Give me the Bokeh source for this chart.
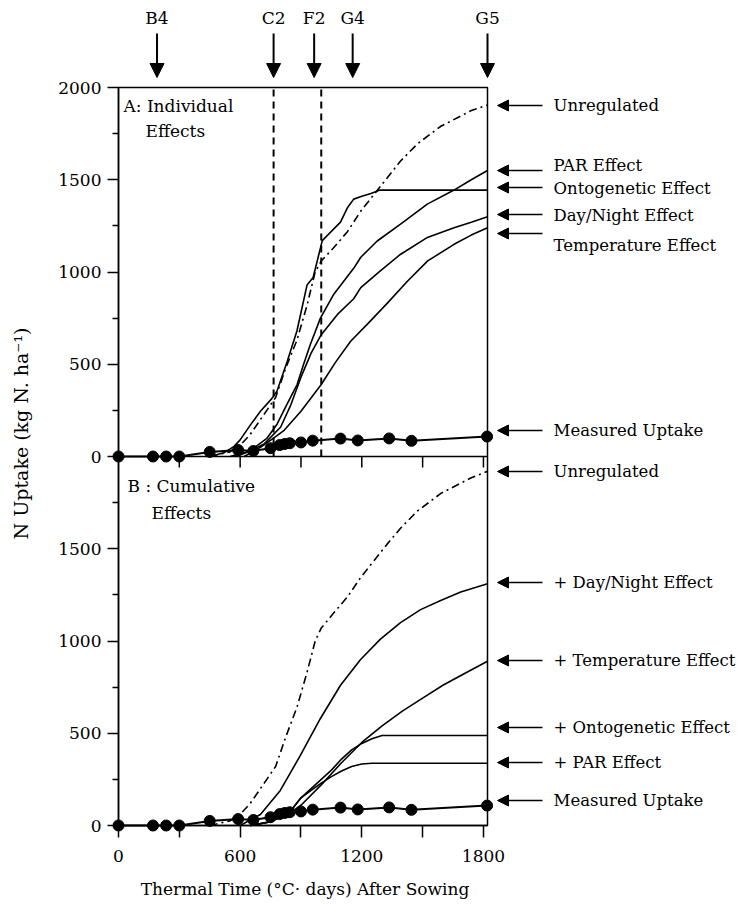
import math
from bokeh.plotting import figure
from bokeh.models import Range1d, FixedTicker, Label, Arrow, NormalHead
from bokeh.embed import file_html
from bokeh.resources import INLINE

FONT = "DejaVu Serif"
FS = "17px"

# ---------------- data ----------------
# measured N uptake (same observations in both panels)
meas_x = [0, 170, 235, 300, 450, 590, 665, 750, 795, 820, 845, 900, 958, 1095, 1180, 1335, 1445, 1818]
meas_y = [0, 0, 0, 0, 25, 35, 30, 45, 62, 68, 72, 76, 86, 97, 87, 98, 85, 108]

# Panel A: individual effects
unreg_x = [450, 550, 600, 650, 700, 775, 825, 880, 930, 970, 1000, 1060, 1130, 1195, 1260, 1325, 1390, 1475, 1590, 1740, 1820]
unreg_y = [0, 25, 60, 120, 200, 320, 480, 630, 820, 1000, 1060, 1130, 1220, 1330, 1420, 1510, 1600, 1695, 1790, 1875, 1905]

onto_x = [450, 520, 570, 600, 650, 700, 757, 782, 832, 880, 930, 960, 1005, 1050, 1095, 1130, 1160, 1200, 1245, 1290, 1820]
onto_y = [0, 20, 55, 90, 170, 245, 315, 355, 515, 680, 930, 970, 1170, 1220, 1270, 1350, 1395, 1410, 1425, 1444, 1444]

par_x = [550, 650, 733, 782, 832, 881, 913, 947, 996, 1062, 1160, 1195, 1276, 1391, 1523, 1655, 1740, 1820]
par_y = [0, 30, 100, 175, 285, 390, 500, 610, 750, 880, 1020, 1080, 1168, 1260, 1368, 1444, 1500, 1550]

dn_x = [580, 650, 720, 800, 850, 900, 950, 1000, 1080, 1160, 1195, 1290, 1390, 1520, 1655, 1740, 1820]
dn_y = [0, 30, 70, 160, 280, 430, 560, 660, 770, 855, 915, 1005, 1095, 1185, 1240, 1270, 1300]

temp_x = [620, 700, 765, 815, 900, 1000, 1070, 1145, 1230, 1325, 1425, 1525, 1655, 1740, 1820]
temp_y = [0, 50, 100, 140, 245, 390, 510, 625, 720, 830, 950, 1060, 1150, 1200, 1240]

# Panel B: cumulative effects
b_unreg_x = [450, 550, 600, 650, 700, 775, 825, 880, 930, 970, 1000, 1060, 1130, 1195, 1260, 1325, 1390, 1475, 1590, 1740, 1820]
b_unreg_y = [0, 25, 60, 120, 200, 320, 480, 640, 830, 1000, 1070, 1150, 1240, 1345, 1435, 1525, 1610, 1705, 1800, 1885, 1920]

b_dn_x = [600, 700, 798, 897, 996, 1095, 1194, 1292, 1391, 1490, 1589, 1688, 1820]
b_dn_y = [0, 60, 190, 380, 580, 760, 900, 1010, 1100, 1170, 1220, 1265, 1310]

b_temp_x = [650, 750, 850, 900, 1000, 1100, 1200, 1300, 1400, 1500, 1600, 1700, 1820]
b_temp_y = [0, 20, 70, 110, 220, 340, 450, 540, 620, 690, 760, 820, 890]

b_onto_x = [650, 750, 850, 900, 950, 1000, 1050, 1100, 1150, 1200, 1250, 1300, 1820]
b_onto_y = [0, 20, 80, 150, 200, 250, 300, 360, 410, 445, 470, 488, 488]

b_par_x = [650, 750, 850, 900, 950, 1000, 1050, 1100, 1150, 1200, 1250, 1820]
b_par_y = [0, 20, 80, 150, 190, 230, 265, 295, 320, 333, 337, 337]

# growth stages (thermal time)
stage_names = ["B4", "C2", "F2", "G4", "G5"]
stage_x = [190, 765, 965, 1155, 1820]
dashed_x = [765, 1000]

x_major = [0, 600, 1200, 1800]
x_minor = [300, 900, 1500]
y_major = [0, 500, 1000, 1500, 2000, 2500, 3000, 3500, 4000]
y_minor = [250, 750, 1250, 1750, 2250, 2750, 3250, 3750]
y_label_over = {2000: "0", 2500: "500", 3000: "1000", 3500: "1500", 4000: "2000"}

X_MAX = 1820      # panel x extent
Y_MAX = 4000      # two stacked panels of 0..2000

# right-hand labels: text, arrow y (page px), text y (page px)
a_labels = [("Unregulated", 105, 105), ("PAR Effect", 170, 165),
            ("Ontogenetic Effect", 187, 188), ("Day/Night Effect", 214, 215),
            ("Temperature Effect", 233, 245), ("Measured Uptake", 430, 430)]
b_labels = [("Unregulated", 471, 471), ("+ Day/Night Effect", 582, 582),
            ("+ Temperature Effect", 660, 660), ("+ Ontogenetic Effect", 727, 727),
            ("+ PAR Effect", 762, 762), ("Measured Uptake", 800, 800)]

# ---------------- layout (pixels) ----------------
W, H = 742, 904
PL, PR, PT, PB = 118, 487, 87, 825        # panel box on the page


def dx(px):
    return (px - PL) / (PR - PL) * X_MAX


def dy(py):
    return (PB - py) / (PB - PT) * Y_MAX


p = figure(width=W, height=H, output_backend="svg", toolbar_location=None,
           x_range=Range1d(dx(0), dx(W)), y_range=Range1d(dy(H), dy(0)),
           min_border=0)
p.extra_y_ranges = {"a": Range1d(dy(H) - Y_MAX / 2, dy(0) - Y_MAX / 2)}
p.grid.visible = False
p.outline_line_color = None
p.background_fill_color = "white"
p.border_fill_color = "white"

for ax in (p.xaxis[0], p.yaxis[0]):
    ax.fixed_location = 0
    ax.axis_line_width = 1.5
    ax.major_tick_line_width = 1.5
    ax.minor_tick_line_width = 1.5
    ax.major_tick_in = 0
    ax.minor_tick_in = 0
    ax.major_label_text_font = FONT
    ax.major_label_text_font_size = FS
    ax.major_label_text_color = "black"

p.xaxis.bounds = (0, X_MAX)
p.xaxis.ticker = FixedTicker(ticks=x_major, minor_ticks=x_minor)
p.xaxis.major_tick_out = 12
p.xaxis.minor_tick_out = 12
p.xaxis.major_label_standoff = 12

p.yaxis.bounds = (0, Y_MAX)
p.yaxis.ticker = FixedTicker(ticks=y_major, minor_ticks=y_minor)
p.yaxis.major_label_overrides = y_label_over
p.yaxis.major_tick_out = 11
p.yaxis.minor_tick_out = 6
p.yaxis.major_label_standoff = 6

# panel box, divider and divider ticks
p.quad(left=0, right=X_MAX, bottom=0, top=Y_MAX, fill_color=None,
       line_color="black", line_width=1.5)
p.segment(x0=0, y0=Y_MAX / 2, x1=X_MAX, y1=Y_MAX / 2, line_color="black", line_width=1.5)
div_ticks = x_minor + x_major[1:]
tick_len = Y_MAX / 2 - dy((PB + PT) / 2 + 11)
p.segment(x0=div_ticks, y0=[Y_MAX / 2] * len(div_ticks), x1=div_ticks,
          y1=[Y_MAX / 2 - tick_len] * len(div_ticks), line_color="black", line_width=1.5)

# stage dashed lines (panel A only)
p.segment(x0=dashed_x, y0=[0] * 2, x1=dashed_x, y1=[Y_MAX / 2] * 2, y_range_name="a",
          line_color="black", line_width=2, line_dash="7 5")

LW = 1.6
# panel A
p.line(unreg_x, unreg_y, y_range_name="a", line_color="black", line_width=LW, line_dash="8 4 2 4")
for xs, ys in [(onto_x, onto_y), (par_x, par_y), (dn_x, dn_y), (temp_x, temp_y)]:
    p.line(xs, ys, y_range_name="a", line_color="black", line_width=LW)
p.line(meas_x, meas_y, y_range_name="a", line_color="black", line_width=2)
p.scatter(meas_x, meas_y, y_range_name="a", size=11, color="black")

# panel B
p.line(b_unreg_x, b_unreg_y, line_color="black", line_width=LW, line_dash="8 4 2 4")
for xs, ys in [(b_dn_x, b_dn_y), (b_temp_x, b_temp_y), (b_onto_x, b_onto_y), (b_par_x, b_par_y)]:
    p.line(xs, ys, line_color="black", line_width=LW)
p.line(meas_x, meas_y, line_color="black", line_width=2)
p.scatter(meas_x, meas_y, size=11, color="black")


def txt(px, py, s, align="left", size=FS, angle=0.0):
    p.add_layout(Label(x=dx(px), y=dy(py), text=s, text_font=FONT, text_font_size=size,
                       text_color="black", text_align=align, text_baseline="middle",
                       angle=angle))


# axis titles
txt((PL + PR) / 2 + 2, 888, "Thermal Time (°C· days) After Sowing", align="center")
txt(20, 433, "N Uptake (kg N. ha⁻¹)", align="center", size="19px", angle=math.pi / 2)

# panel titles
txt(123, 105, "A: Individual")
txt(145, 130, "Effects")
txt(127, 485, "B : Cumulative")
txt(151, 512, "Effects")

# growth stage arrows on top
for name, sx in zip(stage_names, stage_x):
    p.add_layout(Arrow(x_start=sx, y_start=dy(33), x_end=sx, y_end=dy(77),
                       line_width=2, line_color="black",
                       end=NormalHead(size=14, fill_color="black", line_color="black")))
    p.add_layout(Label(x=sx, y=dy(17), text=name, text_font=FONT, text_font_size=FS,
                       text_color="black", text_align="center", text_baseline="middle"))

# right-hand labels
for labels in (a_labels, b_labels):
    for s, ya, yt in labels:
        p.add_layout(Arrow(x_start=dx(542), y_start=dy(ya), x_end=dx(497), y_end=dy(ya),
                           line_width=1.5, line_color="black",
                           end=NormalHead(size=11, fill_color="black", line_color="black")))
        txt(553, yt, s, size="16.5px")

open("out.html", "w").write(file_html(p, INLINE))
